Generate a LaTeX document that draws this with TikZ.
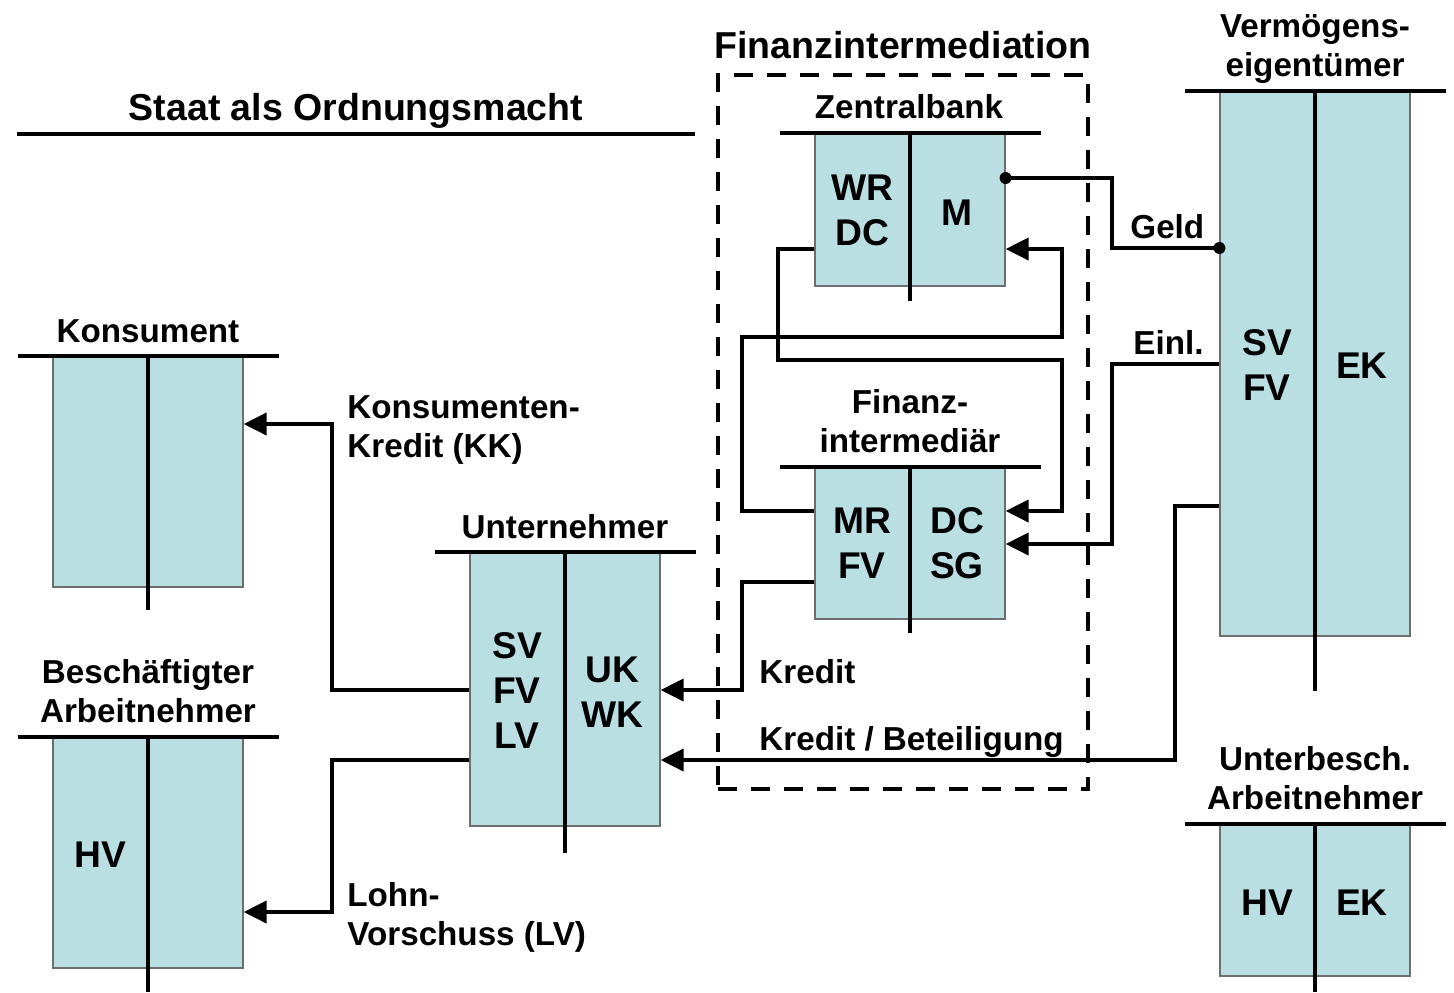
\documentclass[tikz,border=0pt]{standalone}
\usepackage{fontspec}
\setmainfont{Liberation Sans}
\usetikzlibrary{arrows.meta}
\definecolor{acctfill}{RGB}{185,223,227}
\definecolor{acctedge}{RGB}{110,110,110}

\begin{document}
\begin{tikzpicture}[x=0.5pt,y=-0.5pt,
    acct/.style={draw=acctedge,line width=0.6pt,fill=acctfill,minimum width=95pt,inner sep=0pt},
    bar/.style={line width=2pt},
    flow/.style={line width=2pt,-{Triangle[length=11.5pt,width=11pt]}},
    head/.style={font=\fontsize{18.75}{22.5}\selectfont\bfseries,anchor=base},
    lbl/.style={font=\fontsize{16.6}{19.5}\selectfont\bfseries,align=center,anchor=base},
    item/.style={font=\fontsize{18.6}{22.5}\selectfont\bfseries,align=center,anchor=base},
    note/.style={font=\fontsize{16.6}{19.5}\selectfont\bfseries,align=left,anchor=base west,inner sep=0pt}]
    \useasboundingbox (0,0) rectangle (1454,992);

    % Konten
    \node[acct,minimum height=115pt] (kons) at (148,472) {};
    \node[acct,minimum height=115pt] (besch) at (148,853) {};
    \node[acct,minimum height=136.5pt] (unt) at (565,689.5) {};
    \node[acct,minimum height=76pt] (zb) at (910,210) {};
    \node[acct,minimum height=75.5pt] (fi) at (910,543.5) {};
    \node[acct,minimum height=272pt] (verm) at (1315,364) {};
    \node[acct,minimum height=75.5pt] (unterb) at (1315,900.5) {};

    \foreach \k/\e in {kons/610,besch/992,unt/853,zb/301,fi/633,verm/691,unterb/992} {
        \draw[bar] ([xshift=-65.25pt]\k.north) -- ([xshift=65.25pt]\k.north);
        \draw[bar] (\k.north) -- (\k.north |- 0,\e);
    }

    \node[draw,line width=2pt,dash pattern=on 9.5pt off 7pt,minimum width=185pt,minimum height=357pt,inner sep=0pt] (finbox) at (903,432) {};
    \draw[bar] (17,134) coordinate (staatL) -- (695,134) coordinate (staatR);

    % Titel
    \node[head] (staat) at (356,120) {Staat als Ordnungsmacht};
    \node[head] (fintitle) at (903,58) {Finanzintermediation};
    \node[lbl] (zbl) at (909,118) {Zentralbank};
    \node[lbl] (konsl) at (148,342) {Konsument};
    \node[lbl] (untl) at (565,538) {Unternehmer};
    \node[lbl] (beschl) at (148,722) {Besch\"aftigter\\Arbeitnehmer};
    \node[lbl] (fil) at (910,452) {Finanz-\\intermedi\"ar};
    \node[lbl] (verml) at (1315,76) {Verm\"ogens-\\eigent\"umer};
    \node[lbl] (unterbl) at (1315,809) {Unterbesch.\\Arbeitnehmer};

    % Positionen
    \node[item] (zbA) at (862,245) {WR\\DC};
    \node[item] (zbP) at (957,225) {M};
    \node[item] (fiA) at (862,578) {MR\\FV};
    \node[item] (fiP) at (957,578) {DC\\SG};
    \node[item] (untA) at (517,748) {SV\\FV\\LV};
    \node[item] (untP) at (612,727) {UK\\WK};
    \node[item] (vermA) at (1267,400) {SV\\FV};
    \node[item] (vermP) at (1362,378) {EK};
    \node[item] (beschA) at (100,867) {HV};
    \node[item] (unterbA) at (1267,915) {HV};
    \node[item] (unterbP) at (1362,915) {EK};

    % Stroeme
    \draw[bar] (zb.east |- 0,178) -| (1112,200) |- (verm.west |- 0,248);
    \fill (zb.east |- 0,178) circle[radius=3pt];
    \fill (verm.west |- 0,248) circle[radius=3pt];
    \draw[flow] (zb.west |- 0,249) -| (778,300) |- (1062,360) |- (fi.east |- 0,511);
    \draw[flow] (fi.west |- 0,511) -| (742,400) |- (1062,337) |- (zb.east |- 0,249);
    \draw[flow] (verm.west |- 0,364) -| (1112,450) |- (fi.east |- 0,544);
    \draw[flow] (fi.west |- 0,582) -| (742,640) |- (unt.east |- 0,690);
    \draw[flow] (verm.west |- 0,506) -| (1175,600) |- (unt.east |- 0,760);
    \draw[flow] (unt.west |- 0,690) -| (332,550) |- (kons.east |- 0,424);
    \draw[flow] (unt.west |- 0,760) -| (332,850) |- (besch.east |- 0,912);

    \node[note] (geld) at (1130,238) {Geld};
    \node[note] (einl) at (1133,354) {Einl.};
    \node[note] (kk) at (347,457) {Konsumenten-\\Kredit (KK)};
    \node[note] (kredit) at (759,683) {Kredit};
    \node[note] (beteil) at (759,750) {Kredit / Beteiligung};
    \node[note] (lv) at (347,945) {Lohn-\\Vorschuss (LV)};
\end{tikzpicture}
\end{document}
